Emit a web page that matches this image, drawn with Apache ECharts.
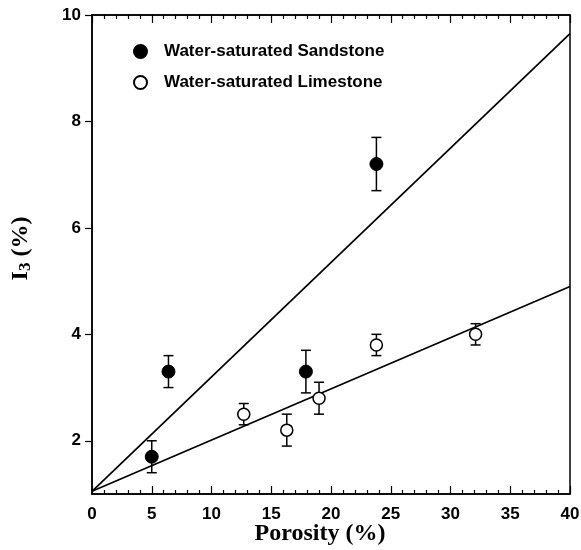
<!DOCTYPE html>
<html>
<head>
<meta charset="utf-8">
<script src="https://cdn.jsdelivr.net/npm/echarts@6/dist/echarts.min.js"></script>
<style>
    html, body { margin: 0; padding: 0; background: #fff; }
    #chart { width: 581px; height: 550px; }
</style>
</head>
<body>
<div id="chart"></div>
<script>
// sandstone points (porosity %, I3 %, error)
var sandPorosity = [5.0, 6.4, 17.9, 23.8];
var sandI3 = [1.7, 3.3, 3.3, 7.2];
var sandErr = [0.3, 0.3, 0.4, 0.5];

// limestone points
var limePorosity = [12.7, 16.3, 19.0, 23.8, 32.1];
var limeI3 = [2.5, 2.2, 2.8, 3.8, 4.0];
var limeErr = [0.2, 0.3, 0.3, 0.2, 0.2];

// fitted lines
var fitX = [0, 40];
var sandFit = [1.05, 9.65];
var limeFit = [1.05, 4.9];

var yTicks = [2, 4, 6, 8, 10];

function pairs(xs, ys) {
    var out = [];
    for (var i = 0; i < xs.length; i++) {
        out.push([xs[i], ys[i]]);
    }
    return out;
}

function triples(xs, ys, es) {
    var out = [];
    for (var i = 0; i < xs.length; i++) {
        out.push([xs[i], ys[i], es[i]]);
    }
    return out;
}

// error bar with caps
function renderErr(params, api) {
    var x = api.value(0), y = api.value(1), e = api.value(2);
    var top = api.coord([x, y + e]);
    var bot = api.coord([x, y - e]);
    var cap = 5;
    var st = { stroke: '#000', lineWidth: 1.5 };
    return {
        type: 'group',
        children: [
            { type: 'line', shape: { x1: top[0], y1: top[1], x2: bot[0], y2: bot[1] }, style: st },
            { type: 'line', shape: { x1: top[0] - cap, y1: top[1], x2: top[0] + cap, y2: top[1] }, style: st },
            { type: 'line', shape: { x1: bot[0] - cap, y1: bot[1], x2: bot[0] + cap, y2: bot[1] }, style: st }
        ]
    };
}

var chart = echarts.init(document.getElementById('chart'));
chart.setOption({
    animation: false,
    grid: {
        left: 92, right: 11, top: 15, bottom: 56,
        outerBoundsMode: 'none',
        show: true, borderColor: '#000', borderWidth: 1.5
    },
    legend: {
        orient: 'vertical',
        left: 128, top: 38,
        itemWidth: 13, itemHeight: 13,
        itemGap: 14,
        data: ['Water-saturated Sandstone', 'Water-saturated Limestone'],
        textStyle: {
            fontFamily: 'Liberation Sans', fontWeight: 'bold', fontSize: 17, color: '#000',
            padding: [0, 0, 0, 12]
        }
    },
    xAxis: [{
        type: 'value',
        min: 0, max: 40, interval: 5,
        name: 'Porosity (%)',
        nameLocation: 'middle',
        nameGap: 28,
        nameMoveOverlap: false,
        nameTextStyle: {
            fontFamily: 'Liberation Serif', fontWeight: 'bold', fontSize: 24, color: '#000',
            padding: [0, 22, 0, 0]
        },
        axisLine: { lineStyle: { color: '#000', width: 1.5 } },
        axisTick: { inside: true, length: 8, lineStyle: { color: '#000', width: 1.2 } },
        minorTick: { show: true, splitNumber: 5, length: 4, lineStyle: { color: '#000', width: 1.2 } },
        axisLabel: { margin: 12, fontFamily: 'Liberation Sans', fontWeight: 'bold', fontSize: 17, color: '#000' },
        splitLine: { show: false }
    }, {
        type: 'value',
        position: 'top',
        min: 0, max: 40, interval: 5,
        axisLine: { show: true, lineStyle: { color: '#000', width: 1.5 } },
        axisTick: { inside: true, length: 8, lineStyle: { color: '#000', width: 1.2 } },
        minorTick: { show: true, splitNumber: 5, length: 4, lineStyle: { color: '#000', width: 1.2 } },
        axisLabel: { show: false },
        splitLine: { show: false }
    }],
    yAxis: {
        type: 'value',
        min: 1, max: 10, interval: 1,
        name: '{a|I}{b|3}{a| (%)}',
        nameLocation: 'middle',
        nameGap: 58,
        nameMoveOverlap: false,
        nameTextStyle: {
            color: '#000',
            padding: [0, 0, 0, 12],
            rich: {
                a: { fontFamily: 'Liberation Serif', fontWeight: 'bold', fontSize: 24, color: '#000' },
                b: { fontFamily: 'Liberation Serif', fontWeight: 'bold', fontSize: 17, color: '#000', verticalAlign: 'bottom', padding: [9, 0, 0, 0] }
            }
        },
        axisLine: { lineStyle: { color: '#000', width: 1.5 } },
        axisTick: { length: 7, customValues: yTicks, lineStyle: { color: '#000', width: 1.2 } },
        axisLabel: {
            customValues: yTicks,
            margin: 11, fontFamily: 'Liberation Sans', fontWeight: 'bold', fontSize: 17, color: '#000'
        },
        splitLine: { show: false }
    },
    series: [{
        type: 'line',
        data: pairs(fitX, sandFit),
        symbol: 'none',
        lineStyle: { color: '#000', width: 1.7 },
        z: 1
    }, {
        type: 'line',
        data: pairs(fitX, limeFit),
        symbol: 'none',
        lineStyle: { color: '#000', width: 1.7 },
        z: 1
    }, {
        type: 'custom',
        renderItem: renderErr,
        data: triples(sandPorosity, sandI3, sandErr),
        encode: { x: 0, y: 1 },
        z: 2
    }, {
        type: 'custom',
        renderItem: renderErr,
        data: triples(limePorosity, limeI3, limeErr),
        encode: { x: 0, y: 1 },
        z: 2
    }, {
        name: 'Water-saturated Sandstone',
        type: 'scatter',
        data: pairs(sandPorosity, sandI3),
        symbol: 'circle',
        symbolSize: 13,
        itemStyle: { color: '#000', borderColor: '#000', borderWidth: 1, opacity: 1 },
        z: 3
    }, {
        name: 'Water-saturated Limestone',
        type: 'scatter',
        data: pairs(limePorosity, limeI3),
        symbol: 'circle',
        symbolSize: 12,
        itemStyle: { color: '#fff', borderColor: '#000', borderWidth: 1.5, opacity: 1 },
        z: 3
    }]
});
</script>
</body>
</html>
